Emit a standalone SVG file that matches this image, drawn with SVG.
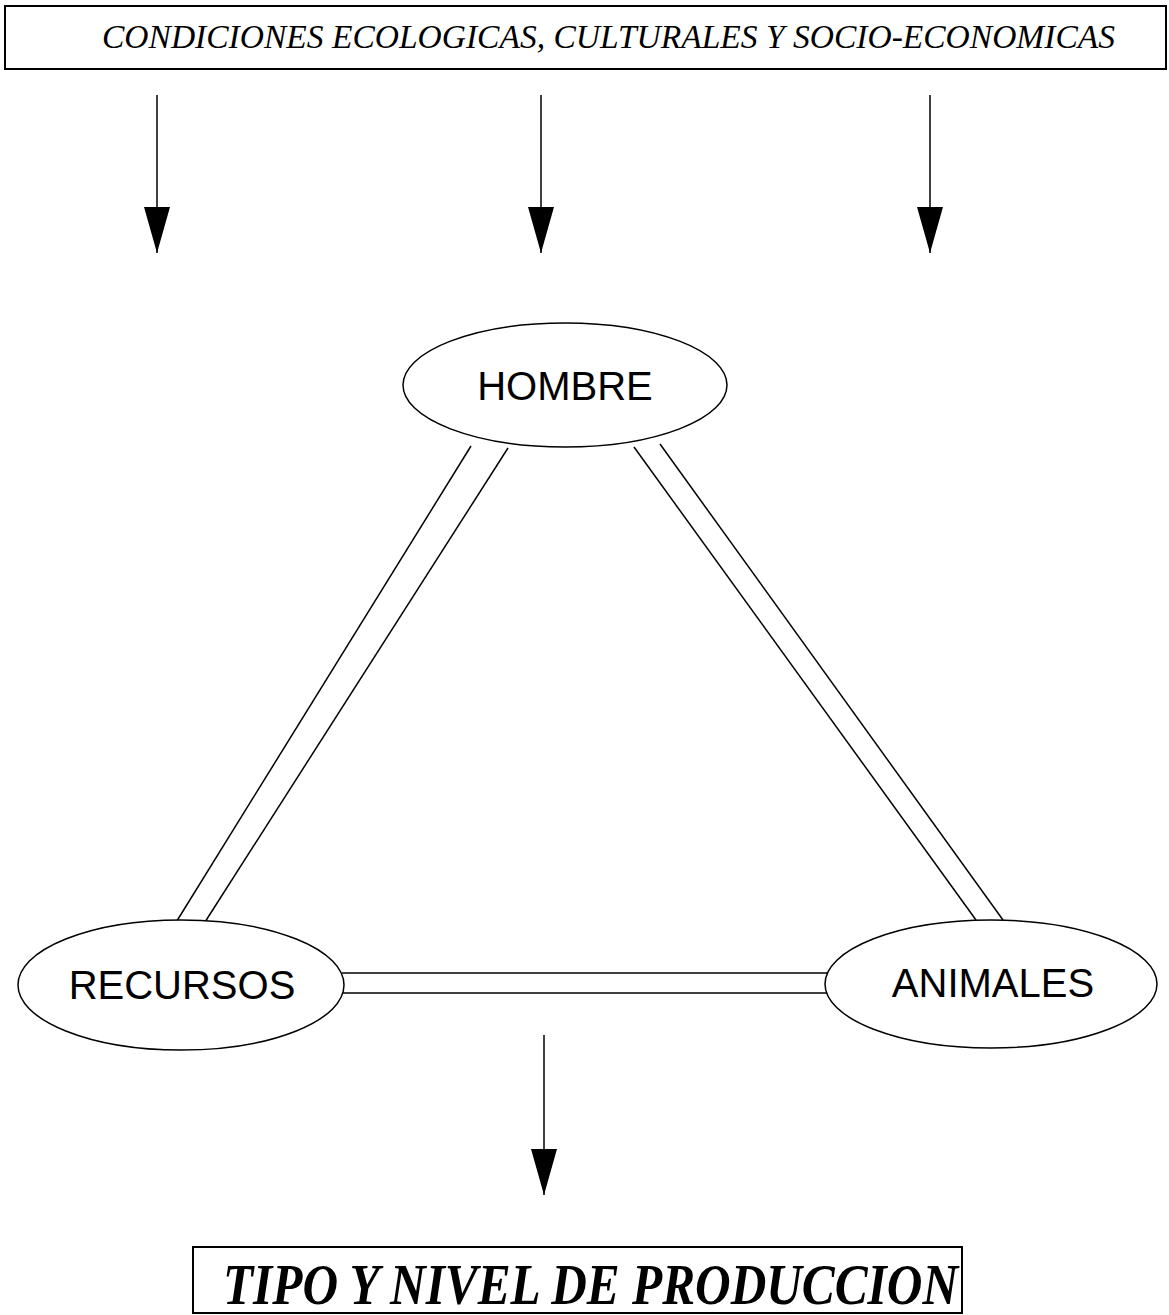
<svg xmlns="http://www.w3.org/2000/svg" width="1169" height="1315" viewBox="0 0 1169 1315">
<style>
.box{fill:#fff;stroke:#000;stroke-width:2}
.ell{fill:#fff;stroke:#000;stroke-width:1.5}
.ln{stroke:#000;stroke-width:1.5;fill:none}
.lab{font-family:"Liberation Sans",Arial,sans-serif;font-size:40px;text-anchor:middle;fill:#000}
.ser{font-family:"Liberation Serif","Times New Roman",serif;font-style:italic;fill:#000}
</style>
<defs>
<marker id="ah" markerWidth="46" markerHeight="26" refX="46" refY="13" orient="auto" markerUnits="userSpaceOnUse" viewBox="0 0 46 26">
<path d="M0,0 L46,13 L0,26 Z" fill="#000"/>
</marker>
</defs>
<rect width="1169" height="1315" fill="#fff"/>
<g id="top">
<rect class="box" x="5" y="6" width="1161" height="63"/>
<text class="ser" x="102" y="48" font-size="34" textLength="1013" lengthAdjust="spacingAndGlyphs">CONDICIONES ECOLOGICAS, CULTURALES Y SOCIO-ECONOMICAS</text>
</g>
<g id="connectors">
<line class="ln" x1="157" y1="95" x2="157" y2="253" marker-end="url(#ah)"/>
<line class="ln" x1="541" y1="95" x2="541" y2="253" marker-end="url(#ah)"/>
<line class="ln" x1="930" y1="95" x2="930" y2="253" marker-end="url(#ah)"/>
<line class="ln" x1="471" y1="446" x2="175" y2="924"/>
<line class="ln" x1="508" y1="448" x2="205" y2="922"/>
<line class="ln" x1="634" y1="447" x2="976" y2="920"/>
<line class="ln" x1="660" y1="444" x2="1003" y2="920"/>
<line class="ln" x1="342" y1="973" x2="830" y2="973"/>
<line class="ln" x1="343" y1="993" x2="828" y2="993"/>
<line class="ln" x1="544" y1="1035" x2="544" y2="1195" marker-end="url(#ah)"/>
</g>
<g id="hombre">
<ellipse class="ell" cx="565" cy="385" rx="162" ry="62"/>
<text class="lab" x="565" y="400">HOMBRE</text>
</g>
<g id="recursos">
<ellipse class="ell" cx="181" cy="985" rx="163" ry="65"/>
<text class="lab" x="182" y="999">RECURSOS</text>
</g>
<g id="animales">
<ellipse class="ell" cx="991" cy="984" rx="166" ry="64"/>
<text class="lab" x="993" y="997">ANIMALES</text>
</g>
<g id="bottom">
<rect class="box" x="193" y="1247" width="769" height="66"/>
<text class="ser" x="223" y="1304" font-size="57" font-weight="bold" textLength="735" lengthAdjust="spacingAndGlyphs">TIPO Y NIVEL DE PRODUCCION</text>
</g>
</svg>
